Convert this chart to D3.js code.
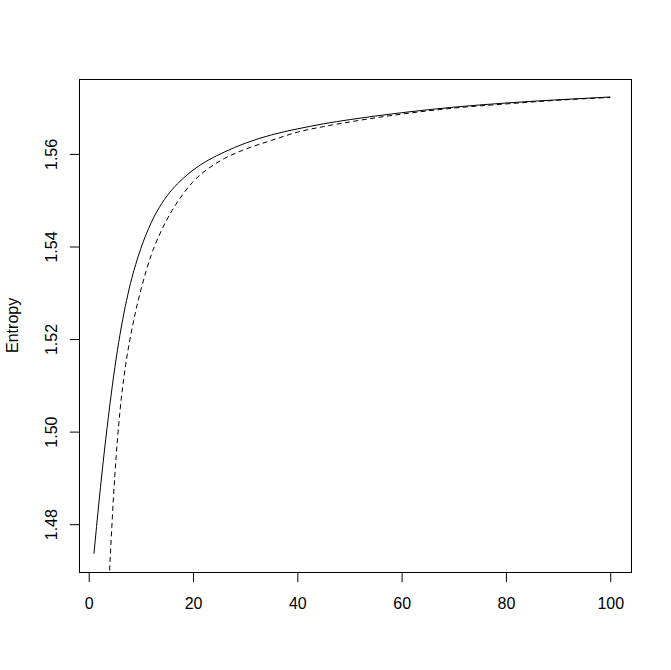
<!DOCTYPE html>
<html>
<head>
	<meta charset="utf-8">
	<script src="https://cdn.jsdelivr.net/npm/d3@7"></script>
	<title>Entropy</title>
	<style>
		body { margin: 0; background: #fff; }
		text { font-family: "Liberation Sans", Arial, sans-serif; font-size: 16px; fill: #000; }
	</style>
</head>
<body>
<script>
	// values
	var solidX = [1, 2, 3, 4, 5, 6, 7, 8, 9, 10, 12, 14, 16, 18, 20, 23, 26, 30, 35, 40, 45, 50, 60, 70, 80, 90, 100];
	var solidY = [1.4736, 1.4852, 1.4958, 1.5053, 1.5138, 1.5210, 1.5270, 1.5320, 1.5361, 1.5396, 1.5452, 1.5493, 1.5523, 1.5546, 1.5565, 1.5587, 1.5604, 1.5623, 1.5641, 1.5654, 1.5665, 1.5674, 1.5689, 1.5701, 1.5710, 1.5717, 1.5723];

	var dashedX = [4, 5, 6, 7, 8, 9, 10, 12, 14, 16, 18, 20, 23, 26, 30, 35, 40, 45, 50, 60, 70, 80, 90, 100];
	var dashedY = [1.4700, 1.4905, 1.5045, 1.5138, 1.5205, 1.5260, 1.5306, 1.5382, 1.5436, 1.5478, 1.5512, 1.5540, 1.5569, 1.5590, 1.5610, 1.5629, 1.5647, 1.5659, 1.5669, 1.5686, 1.5699, 1.5708, 1.5716, 1.5722];

	var xTicks = [0, 20, 40, 60, 80, 100];
	var yTicks = [1.48, 1.50, 1.52, 1.54, 1.56];
	var yTitle = 'Entropy';

	var svgWidth = 671;
	var svgHeight = 670;
	var lineH = 19.2;
	var plotLeft = 4.1 * lineH, plotRight = svgWidth - 2.1 * lineH;
	var plotTop = 4.1 * lineH, plotBottom = svgHeight - 5.1 * lineH;

	// R style 4% padding
	function pad(ext) {
		var d = (ext[1] - ext[0]) * 0.04;
		return [ext[0] - d, ext[1] + d];
	}

	var xScale = d3.scaleLinear().domain(pad([2, 100])).range([plotLeft, plotRight]);
	var yScale = d3.scaleLinear().domain(pad(d3.extent(solidY))).range([plotBottom, plotTop]);

	var svg = d3.select('body').append('svg')
		.attr('width', svgWidth)
		.attr('height', svgHeight);

	svg.append('clipPath').attr('id', 'plotClip')
		.append('rect')
		.attr('x', plotLeft).attr('y', plotTop)
		.attr('width', plotRight - plotLeft).attr('height', plotBottom - plotTop);

	var line = d3.line()
		.x(function (d) { return xScale(d[0]); })
		.y(function (d) { return yScale(d[1]); })
		.curve(d3.curveMonotoneX);

	var plot = svg.append('g').attr('clip-path', 'url(#plotClip)');

	plot.append('path')
		.datum(d3.zip(solidX, solidY))
		.attr('d', line)
		.attr('fill', 'none')
		.attr('stroke', '#000')
		.attr('stroke-width', 1);

	plot.append('path')
		.datum(d3.zip(dashedX, dashedY))
		.attr('d', line)
		.attr('fill', 'none')
		.attr('stroke', '#000')
		.attr('stroke-width', 1)
		.attr('stroke-dasharray', '5,3.5');

	// box
	svg.append('rect')
		.attr('x', Math.round(plotLeft) + 0.5).attr('y', Math.round(plotTop) + 0.5)
		.attr('width', Math.round(plotRight) - Math.round(plotLeft))
		.attr('height', Math.round(plotBottom) - Math.round(plotTop))
		.attr('fill', 'none').attr('stroke', '#000').attr('stroke-width', 1);

	// x axis
	var xAxis = svg.append('g')
		.attr('transform', 'translate(0,' + (Math.round(plotBottom) + 0.5) + ')')
		.call(d3.axisBottom(xScale).tickValues(xTicks).tickSize(9.6).tickPadding(16).tickFormat(d3.format('d')));
	xAxis.select('.domain').remove();
	xAxis.selectAll('text').style('font-size', '16px').style('font-family', '"Liberation Sans", Arial, sans-serif');
	xAxis.selectAll('line').attr('stroke', '#000');

	// y axis
	var yAxis = svg.append('g')
		.attr('transform', 'translate(' + (Math.round(plotLeft) + 0.5) + ',0)')
		.call(d3.axisLeft(yScale).tickValues(yTicks).tickSize(9.6).tickFormat(d3.format('.2f')));
	yAxis.select('.domain').remove();
	yAxis.selectAll('line').attr('stroke', '#000');
	yAxis.selectAll('text')
		.attr('x', null).attr('dy', null)
		.attr('text-anchor', 'middle')
		.attr('transform', 'translate(' + (-lineH - 3.5) + ',0) rotate(-90)')
		.style('font-size', '16px').style('font-family', '"Liberation Sans", Arial, sans-serif');

	svg.append('text')
		.attr('text-anchor', 'middle')
		.attr('transform', 'translate(' + (plotLeft - 3 * lineH - 3) + ',' + ((plotTop + plotBottom) / 2) + ') rotate(-90)')
		.text(yTitle);
</script>
</body>
</html>
